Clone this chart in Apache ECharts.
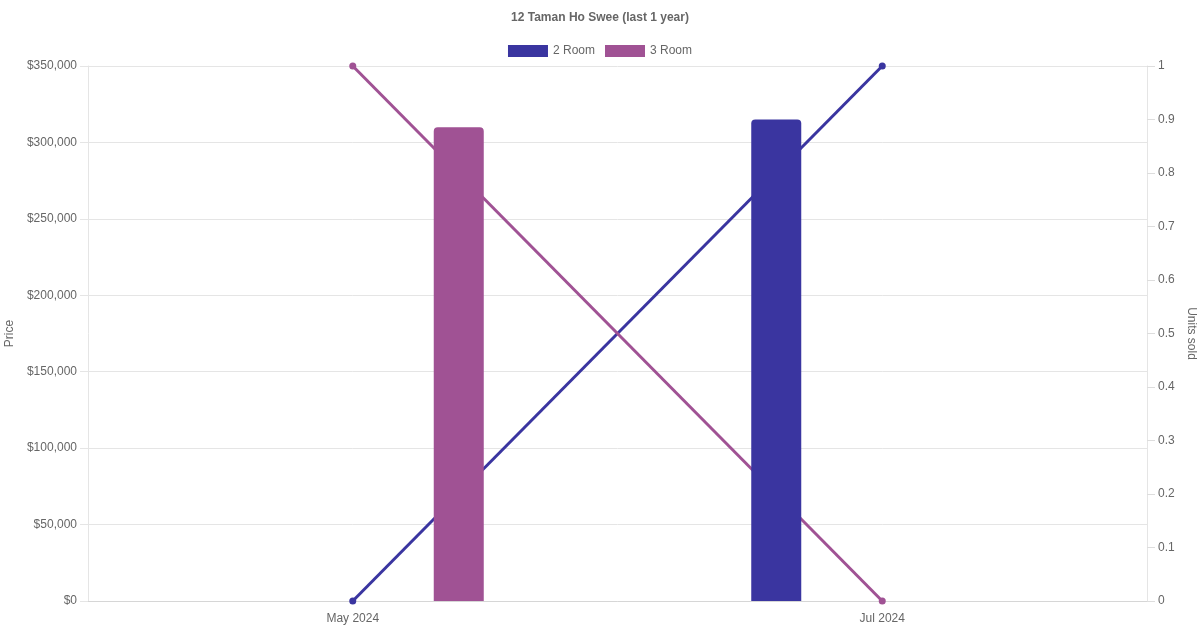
<!DOCTYPE html>
<html>
<head>
<meta charset="utf-8">
<script src="https://cdn.jsdelivr.net/npm/echarts@6/dist/echarts.min.js"></script>
<style>html,body{margin:0;padding:0;background:#fff;}#c{width:1200px;height:630px;}</style>
</head>
<body>
<div id="c"></div>
<script>
const categories = ['May 2024', 'Jul 2024'];
const seriesNames = ['2 Room', '3 Room'];
const priceTwoRoom = [null, 315000];
const priceThreeRoom = [310000, null];
const unitsTwoRoom = [0, 1];
const unitsThreeRoom = [1, 0];
const colors = ['#3a35a0', '#a05294'];

const font = 'Liberation Sans, Arial, Helvetica, sans-serif';
const chart = echarts.init(document.getElementById('c'));
chart.setOption({
  animation: false,
  textStyle: { fontFamily: font },
  title: {
    text: '12 Taman Ho Swee (last 1 year)',
    left: 'center', top: 7,
    textStyle: { fontSize: 12, fontWeight: 'bold', color: '#666', fontFamily: font }
  },
  legend: {
    data: seriesNames,
    top: 40, left: 'center',
    icon: 'rect', itemWidth: 40, itemHeight: 12, itemGap: 10,
    textStyle: { fontSize: 12, color: '#666', fontFamily: font }
  },
  grid: { left: 88, right: 53, top: 66, bottom: 29, containLabel: false, outerBoundsMode: 'none' },
  xAxis: {
    type: 'category', data: categories, boundaryGap: true,
    axisLine: { show: true, lineStyle: { color: '#d6d6d6' } },
    axisTick: { show: false },
    axisLabel: { margin: 12, fontSize: 12, color: '#666', fontFamily: font },
    splitLine: { show: false }
  },
  yAxis: [{
    type: 'value', min: 0, max: 350000, interval: 50000,
    name: 'Price', nameLocation: 'middle', nameGap: 67, nameRotate: 90,
    nameTextStyle: { fontSize: 12, color: '#666', fontFamily: font },
    axisLine: { show: true, lineStyle: { color: '#e5e5e5' } },
    axisTick: { show: true, length: 8, lineStyle: { color: '#e5e5e5' } },
    axisLabel: { margin: 11, fontSize: 12, color: '#666', fontFamily: font,
      formatter: v => '$' + v.toLocaleString('en-US') },
    splitLine: { show: true, lineStyle: { color: '#e5e5e5' } }
  }, {
    type: 'value', min: 0, max: 1, interval: 0.1, position: 'right',
    name: 'Units sold', nameLocation: 'middle', nameGap: 33, nameRotate: -90,
    nameTextStyle: { fontSize: 12, color: '#666', fontFamily: font },
    axisLine: { show: true, lineStyle: { color: '#e5e5e5' } },
    axisTick: { show: true, length: 8, lineStyle: { color: '#dddddd' } },
    axisLabel: { margin: 11, fontSize: 12, color: '#666', fontFamily: font,
      formatter: v => String(Math.round(v * 10) / 10) },
    splitLine: { show: false }
  }],
  series: [{
    name: seriesNames[0], type: 'bar', data: priceTwoRoom, yAxisIndex: 0,
    barWidth: 50, barGap: '324%', z: 5,
    itemStyle: { color: colors[0], borderRadius: [4, 4, 0, 0] }
  }, {
    name: seriesNames[1], type: 'bar', data: priceThreeRoom, yAxisIndex: 0,
    barWidth: 50, barGap: '324%', z: 5,
    itemStyle: { color: colors[1], borderRadius: [4, 4, 0, 0] }
  }, {
    name: seriesNames[0], type: 'line', data: unitsTwoRoom, yAxisIndex: 1,
    symbol: 'circle', symbolSize: 7, z: 2,
    lineStyle: { color: colors[0], width: 3 }, itemStyle: { color: colors[0] }
  }, {
    name: seriesNames[1], type: 'line', data: unitsThreeRoom, yAxisIndex: 1,
    symbol: 'circle', symbolSize: 7, z: 2,
    lineStyle: { color: colors[1], width: 3 }, itemStyle: { color: colors[1] }
  }]
});
</script>
</body>
</html>
